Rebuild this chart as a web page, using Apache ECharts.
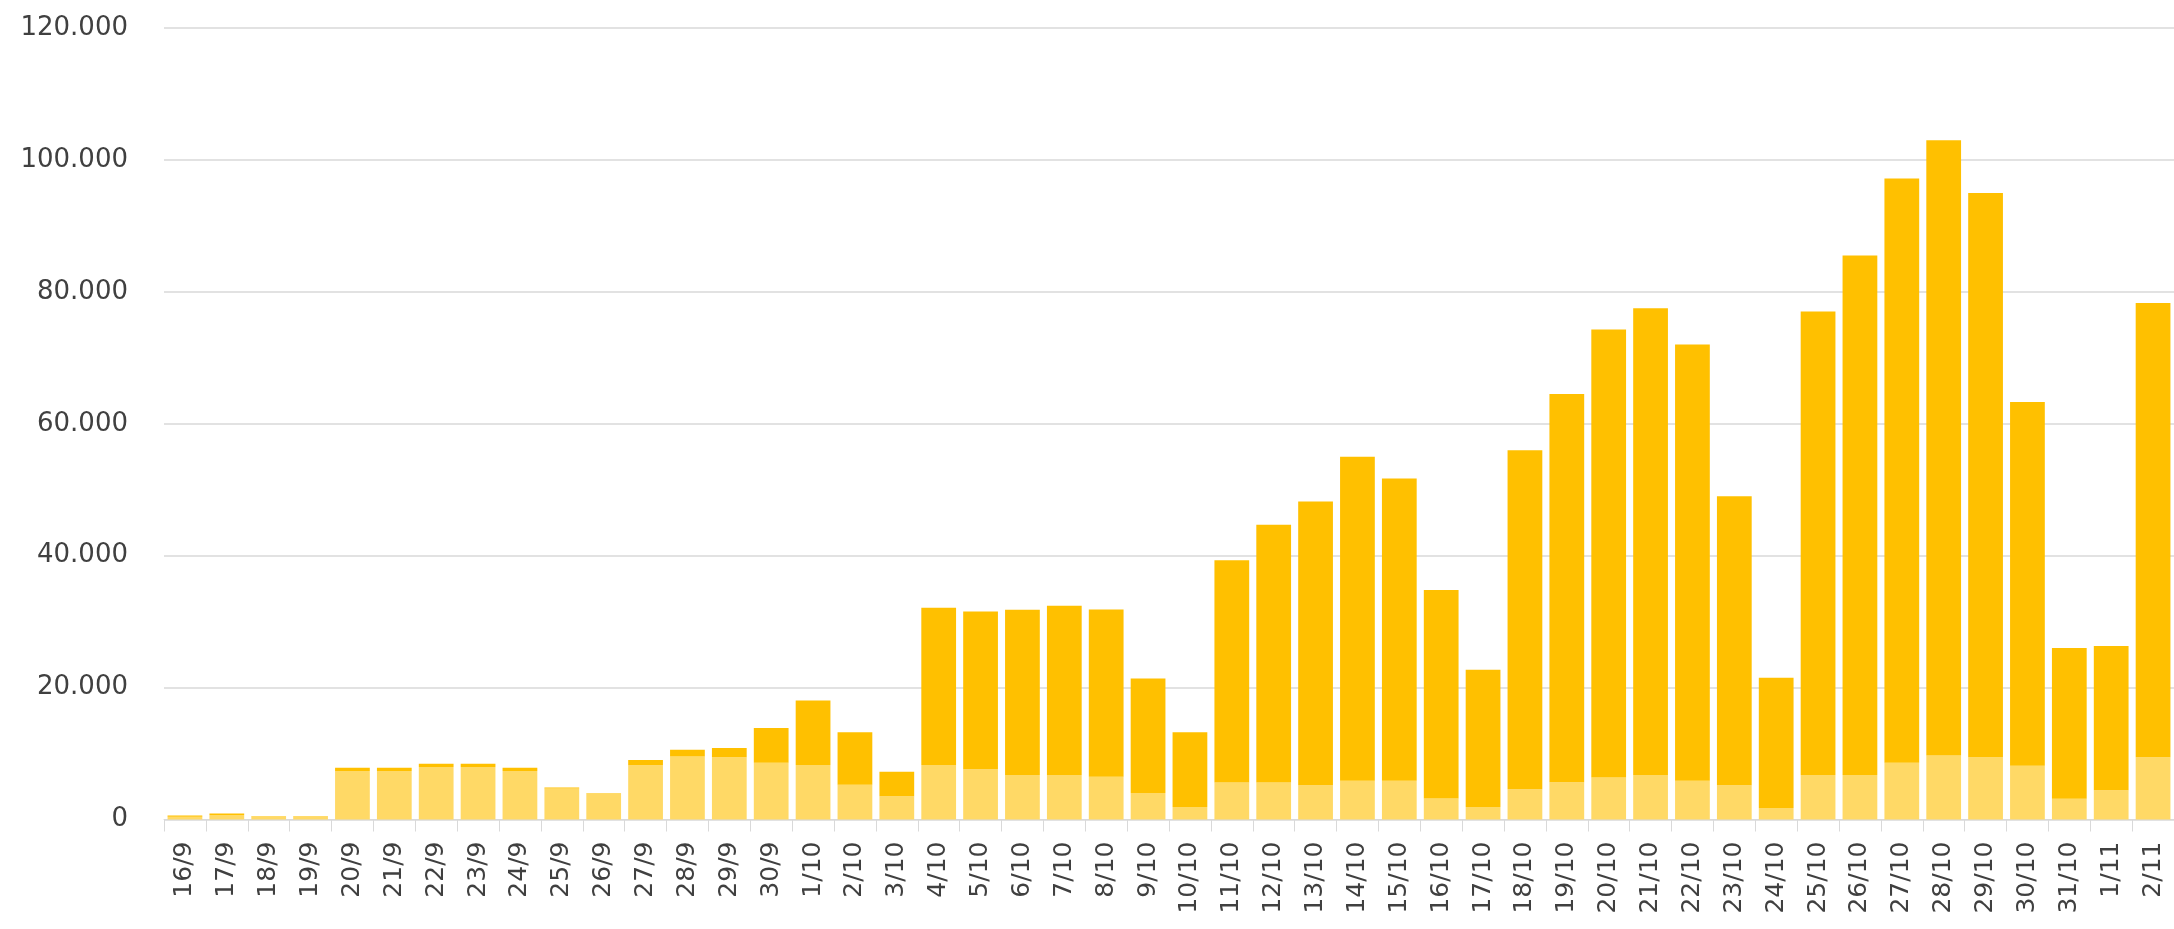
<!DOCTYPE html>
<html>
<head>
<meta charset="utf-8">
<script src="https://cdn.jsdelivr.net/npm/echarts@6/dist/echarts.min.js"></script>
<style>
html,body{margin:0;padding:0;background:#fff;}
#chart{width:2174px;height:929px;}
</style>
</head>
<body>
<div id="chart"></div>
<script>
const categories = ['16/9','17/9','18/9','19/9','20/9','21/9','22/9','23/9','24/9','25/9','26/9','27/9','28/9','29/9','30/9',
  '1/10','2/10','3/10','4/10','5/10','6/10','7/10','8/10','9/10','10/10','11/10','12/10','13/10','14/10','15/10','16/10',
  '17/10','18/10','19/10','20/10','21/10','22/10','23/10','24/10','25/10','26/10','27/10','28/10','29/10','30/10','31/10',
  '1/11','2/11'];
// lower (light) part of each bar
const lightValues = [400,700,400,400,7350,7350,7960,7960,7350,4700,3900,8210,9540,9440,8620,
  8270,5260,3520,8270,7600,6730,6730,6480,4030,1890,5610,5610,5200,5870,5870,3200,
  1900,4590,5660,6380,6730,5870,5200,1730,6730,6730,8620,9690,9440,8160,3160,
  4440,9440];
// upper (dark) part = total - light
const totalValues = [600,900,500,500,7860,7860,8470,8470,7860,4850,3980,9030,10560,10850,13880,
  18060,13210,7240,32090,31530,31790,32400,31840,21380,13210,39300,44700,48200,55000,51700,34800,
  22700,56000,64500,74300,77500,72000,49000,21500,77000,85500,97200,103000,95000,63300,26000,
  26300,78300];
const darkValues = totalValues.map((t, i) => t - lightValues[i]);
const yTicks = [0, 20000, 40000, 60000, 80000, 100000, 120000];

const chart = echarts.init(document.getElementById('chart'), null, {renderer: 'canvas'});
const fmt = v => v === 0 ? '0' : String(v).replace(/\B(?=(\d{3})+(?!\d))/g, '.');
chart.setOption({
  animation: false,
  backgroundColor: '#ffffff',
  grid: {left: 164, right: 0, top: 28, bottom: 109.5, containLabel: false},
  xAxis: {
    type: 'category',
    data: categories,
    axisLine: {show: true, lineStyle: {color: '#D9D9D9', width: 1}},
    axisTick: {show: true, length: 12, lineStyle: {color: '#D9D9D9'}},
    axisLabel: {rotate: 90, interval: 0, margin: 22, fontFamily: 'DejaVu Sans', fontSize: 25, color: '#404040'}
  },
  yAxis: {
    type: 'value',
    min: yTicks[0],
    max: yTicks[yTicks.length - 1],
    interval: yTicks[1] - yTicks[0],
    axisLine: {show: false},
    axisTick: {show: false},
    splitLine: {lineStyle: {color: '#D9D9D9', width: 1.5}},
    axisLabel: {margin: 36, fontFamily: 'DejaVu Sans', fontSize: 26, color: '#404040', formatter: fmt}
  },
  series: [
    {name: 'light', type: 'bar', stack: 'total', data: lightValues, barCategoryGap: '17%',
     itemStyle: {color: '#FFD966'}},
    {name: 'dark', type: 'bar', stack: 'total', data: darkValues, barCategoryGap: '17%',
     itemStyle: {color: '#FFC000'}}
  ]
});
</script>
</body>
</html>
